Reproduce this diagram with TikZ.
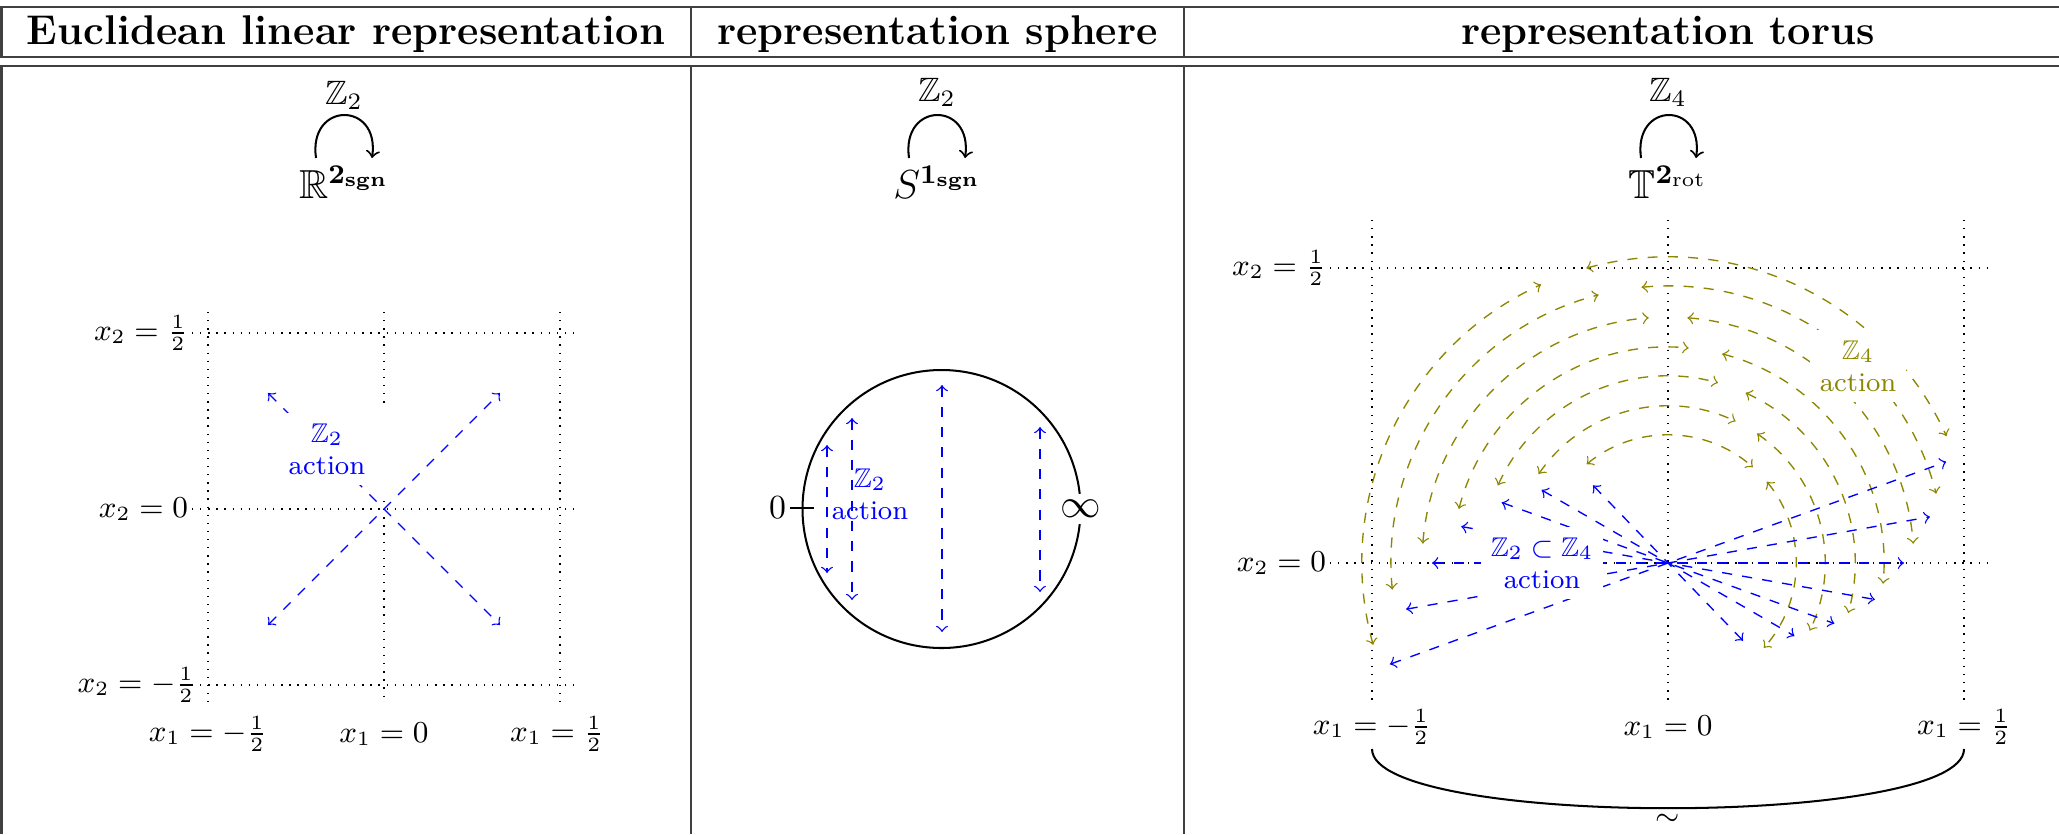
\documentclass[tikz,border=0pt]{standalone}
\usepackage{amssymb}
\usepackage{xcolor}
\usepackage{tikz}

\begin{document}
\begin{tikzpicture}[
  x=0.0104cm, y=-0.0104cm,
  rule/.style={line width=0.7pt, draw=black!75},
  header/.style={font=\fontsize{12.3}{14}\selectfont\bfseries, anchor=base},
  gridline/.style={dotted},
  axislabel/.style={font=\small, inner sep=1pt},
  space/.style={font=\large, inner sep=1pt},
  loopy/.style={->, semithick},
  bluearrow/.style={<->, dashed, blue},
  olivearrow/.style={<->, dashed, olive},
  action/.style={font=\footnotesize, align=center, fill=white, inner sep=3pt}
]
\useasboundingbox (0,0) rectangle (2059,834);
% table rules
\draw[rule] (0,7) -- (2059,7);
\draw[rule] (0,57) -- (2059,57);
\draw[rule] (0,66) -- (2059,66);
\draw[rule] (1.5,7) -- (1.5,57);
\draw[rule] (1.5,66) -- (1.5,834);
\draw[rule] (691,7) -- (691,57);
\draw[rule] (691,66) -- (691,834);
\draw[rule] (1184,7) -- (1184,57);
\draw[rule] (1184,66) -- (1184,834);
\node[header] (h1) at (346,44) {Euclidean linear representation};
\node[header] (h2) at (937.5,44) {representation sphere};
\node[header] (h3) at (1668,44) {representation torus};

% Euclidean column
\node (g1) at (344,95) {$\mathbb{Z}_2$};
\node[space] (s1) at (344,182) {$\mathbb{R}^{\mathbf{2}_{\mathbf{sgn}}}$};
\coordinate (s1l) at (316,158);
\coordinate (s1r) at (372,158);
\draw[loopy] (s1l) .. controls +(-8,-57) and +(8,-57) .. (s1r);
\draw[gridline] (192,333) -- (576,333);
\draw[gridline] (192,509) -- (576,509);
\draw[gridline] (192,685) -- (576,685);
\draw[gridline] (208,312) -- (208,703);
\draw[gridline] (384,312) -- (384,407);
\draw[gridline] (384,501) -- (384,703);
\draw[gridline] (560,312) -- (560,703);
\node[axislabel, anchor=east] (e2a) at (192,333) {$x_2=\frac12$};
\node[axislabel, anchor=east] (e2b) at (192,509) {$x_2=0$};
\node[axislabel, anchor=east] (e2c) at (200,685) {$x_2=-\frac12$};
\node[axislabel] (e1a) at (208,734) {$x_1=-\frac12$};
\node[axislabel] (e1b) at (384,734) {$x_1=0$};
\node[axislabel] (e1c) at (557,734) {$x_1=\frac12$};
\draw[bluearrow] (268,625) -- (500,393);
\draw[bluearrow] (268,393) -- (500,625);
\node[action, text=blue] (act1) at (327,449) {$\mathbb{Z}_2$\\action};

% sphere column
\node (g2) at (937,92) {$\mathbb{Z}_2$};
\node[space] (s2) at (937,182) {$S^{\mathbf{1}_{\mathbf{sgn}}}$};
\coordinate (s2l) at (909,158);
\coordinate (s2r) at (965,158);
\draw[loopy] (s2l) .. controls +(-8,-57) and +(8,-57) .. (s2r);
\draw[semithick] (941.5,509) circle[radius=139];
\coordinate (tick) at (790,508);
\draw[semithick] (tick) -- (814,508);
\node[anchor=east, inner sep=1pt] (zero) at (tick) {$0$};
\node[fill=white, font=\large, inner sep=2pt] (inf) at (1081,509) {$\infty$};
\draw[bluearrow] (827,445) -- (827,573);
\draw[bluearrow] (852,418) -- (852,600);
\draw[bluearrow] (942,385) -- (942,632);
\draw[bluearrow] (1040,427) -- (1040,592);
\node[font=\footnotesize, align=center, text=blue] (act2) at (870,494) {$\mathbb{Z}_2$\\action};

% torus column
\node (g3) at (1668,92) {$\mathbb{Z}_4$};
\node[space] (s3) at (1668,182) {$\mathbb{T}^{\mathbf{2}_{\mathrm{rot}}}$};
\coordinate (s3l) at (1641,158);
\coordinate (s3r) at (1696,158);
\draw[loopy] (s3l) .. controls +(-8,-57) and +(8,-57) .. (s3r);
\draw[gridline] (1330,268) -- (1992,268);
\draw[gridline] (1330,563) -- (1992,563);
\draw[gridline] (1372,220) -- (1372,703);
\draw[gridline] (1668,220) -- (1668,703);
\draw[gridline] (1964,220) -- (1964,703);
\node[axislabel, anchor=east] (t2a) at (1330,268) {$x_2=\frac12$};
\node[axislabel, anchor=east] (t2b) at (1330,563) {$x_2=0$};
\node[axislabel] (t1a) at (1372,727) {$x_1=-\frac12$};
\node[axislabel] (t1b) at (1668,727) {$x_1=0$};
\node[axislabel] (t1c) at (1964,727) {$x_1=\frac12$};
\draw[semithick] (t1a.south) .. controls +(0,79) and +(0,79) .. (t1c.south);
\node[font=\small] (glue) at (1668,820) {$\sim$};
\coordinate (tc) at (1668,563);
% Z4 orbits
\draw[olivearrow, shift={(tc)}] (-195.5:306) arc[start angle=-195.5, end angle=-114.5, radius=306];
\draw[olivearrow, shift={(tc)}] (-105.5:306) arc[start angle=-105.5, end angle=-24.5, radius=306];
\draw[olivearrow, shift={(tc)}] (-185.5:277) arc[start angle=-185.5, end angle=-104.5, radius=277];
\draw[olivearrow, shift={(tc)}] (-95.5:277) arc[start angle=-95.5, end angle=-14.5, radius=277];
\draw[olivearrow, shift={(tc)}] (-175.5:246) arc[start angle=-175.5, end angle=-94.5, radius=246];
\draw[olivearrow, shift={(tc)}] (-85.5:246) arc[start angle=-85.5, end angle=-4.5, radius=246];
\draw[olivearrow, shift={(tc)}] (-165.5:216) arc[start angle=-165.5, end angle=-84.5, radius=216];
\draw[olivearrow, shift={(tc)}] (-75.5:216) arc[start angle=-75.5, end angle=5.5, radius=216];
\draw[olivearrow, shift={(tc)}] (-155.5:187) arc[start angle=-155.5, end angle=-74.5, radius=187];
\draw[olivearrow, shift={(tc)}] (-65.5:187) arc[start angle=-65.5, end angle=15.5, radius=187];
\draw[olivearrow, shift={(tc)}] (-145.5:157) arc[start angle=-145.5, end angle=-64.5, radius=157];
\draw[olivearrow, shift={(tc)}] (-55.5:157) arc[start angle=-55.5, end angle=25.5, radius=157];
\draw[olivearrow, shift={(tc)}] (-129.5:128) arc[start angle=-129.5, end angle=-48.5, radius=128];
\draw[olivearrow, shift={(tc)}] (-39.5:128) arc[start angle=-39.5, end angle=41.5, radius=128];
% Z2 pairs
\draw[bluearrow, shift={(tc)}] (-134:108) -- (46:108);
\draw[bluearrow, shift={(tc)}] (-150:146) -- (30:146);
\draw[bluearrow, shift={(tc)}] (-160:177) -- (20:177);
\draw[bluearrow, shift={(tc)}] (-170:210) -- (10:210);
\draw[bluearrow, shift={(tc)}] (180:236) -- (0:236);
\draw[bluearrow, shift={(tc)}] (-190:266) -- (-10:266);
\draw[bluearrow, shift={(tc)}] (-200:296) -- (-20:296);
\node[action, text=blue] (act3) at (1542,563) {$\mathbb{Z}_2\subset\mathbb{Z}_4$\\action};
\node[action, text=olive] (act4) at (1858,366) {$\mathbb{Z}_4$\\action};
\end{tikzpicture}
\end{document}
